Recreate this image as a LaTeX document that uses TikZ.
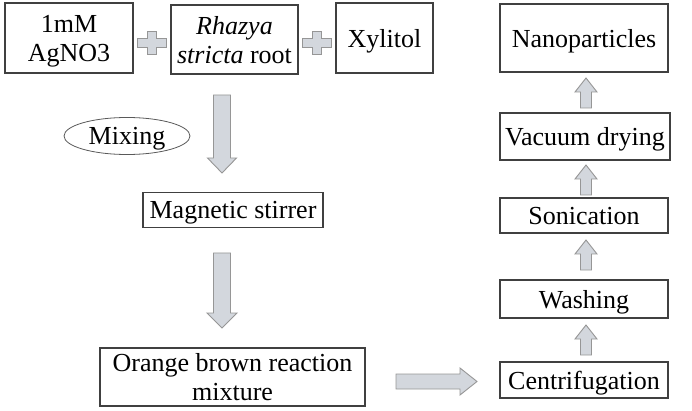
\documentclass[tikz,border=0pt]{standalone}
\usepackage{fontspec}
\setmainfont{Liberation Serif}
\usepackage{tikz}
\usetikzlibrary{shapes.geometric}

\definecolor{arrowgray}{RGB}{211,215,221}
\definecolor{edgegray}{RGB}{150,150,150}

\tikzset{
    box/.style={draw=black!75, line width=1.1pt, align=center, inner sep=0pt,
        text depth=0pt, font=\fontsize{26}{29}\selectfont},
    arrowfill/.style={fill=arrowgray, draw=edgegray, line width=0.9pt, line join=miter},
    % length / shaft / head width / head length
    pics/blockarrow/.style n args={4}{code={
        \draw[arrowfill] (0,-#2/2) -- (#1-#4,-#2/2) -- (#1-#4,-#3/2) -- (#1,0)
            -- (#1-#4,#3/2) -- (#1-#4,#2/2) -- (0,#2/2) -- cycle;
    }},
    pics/plussign/.style={code={
        \draw[arrowfill] (-14.5,-4.5) -- (-4.5,-4.5) -- (-4.5,-11.5) -- (4.5,-11.5)
            -- (4.5,-4.5) -- (14.5,-4.5) -- (14.5,4.5) -- (4.5,4.5) -- (4.5,11.5)
            -- (-4.5,11.5) -- (-4.5,4.5) -- (-14.5,4.5) -- cycle;
    }}
}

\begin{document}
\begin{tikzpicture}[x=1pt, y=-1pt]
    \useasboundingbox (0,0) rectangle (692,411);

    % starting materials
    \node[box, minimum width=128pt, minimum height=70pt] (agno) at (69,38) {1mM\\AgNO3};
    \node[box, minimum width=127pt, minimum height=69pt] (rhazya) at (234.5,39.5) {\textit{Rhazya}\\\textit{stricta} root};
    \node[box, minimum width=97pt, minimum height=70pt] (xylitol) at (384.5,38) {Xylitol};
    \pic at (152,43) {plussign};
    \pic at (317,43) {plussign};

    \node[box, ellipse, draw=black!65, line width=0.8pt, minimum width=126pt, minimum height=37pt] (mixing) at (127,136) {Mixing};
    \node[box, minimum width=180pt, minimum height=35pt] (stirrer) at (233,210) {Magnetic stirrer};
    \node[box, minimum width=265pt, minimum height=58pt] (mixture) at (232.5,377) {Orange brown reaction\\mixture};

    \pic[rotate=-90] at (222,95) {blockarrow={78}{17}{29}{15}};
    \pic[rotate=-90] at (222,253) {blockarrow={75}{17}{30}{15}};
    \pic at (396,381.5) {blockarrow={81}{15}{27}{17}};

    % right column
    \node[box, minimum width=168pt, minimum height=36pt] (centri) at (584,380) {Centrifugation};
    \node[box, minimum width=168pt, minimum height=38pt] (washing) at (584,299) {Washing};
    \node[box, minimum width=168pt, minimum height=35pt] (sonic) at (584,215.5) {Sonication};
    \node[box, minimum width=170pt, minimum height=47pt] (vacuum) at (585,136.5) {Vacuum drying};
    \node[box, minimum width=168pt, minimum height=68pt] (nano) at (584,38) {Nanoparticles};

    \foreach \ya in {355,270,195,108}
        \pic[rotate=90] at (586,\ya) {blockarrow={30}{11}{22}{14}};
\end{tikzpicture}
\end{document}
